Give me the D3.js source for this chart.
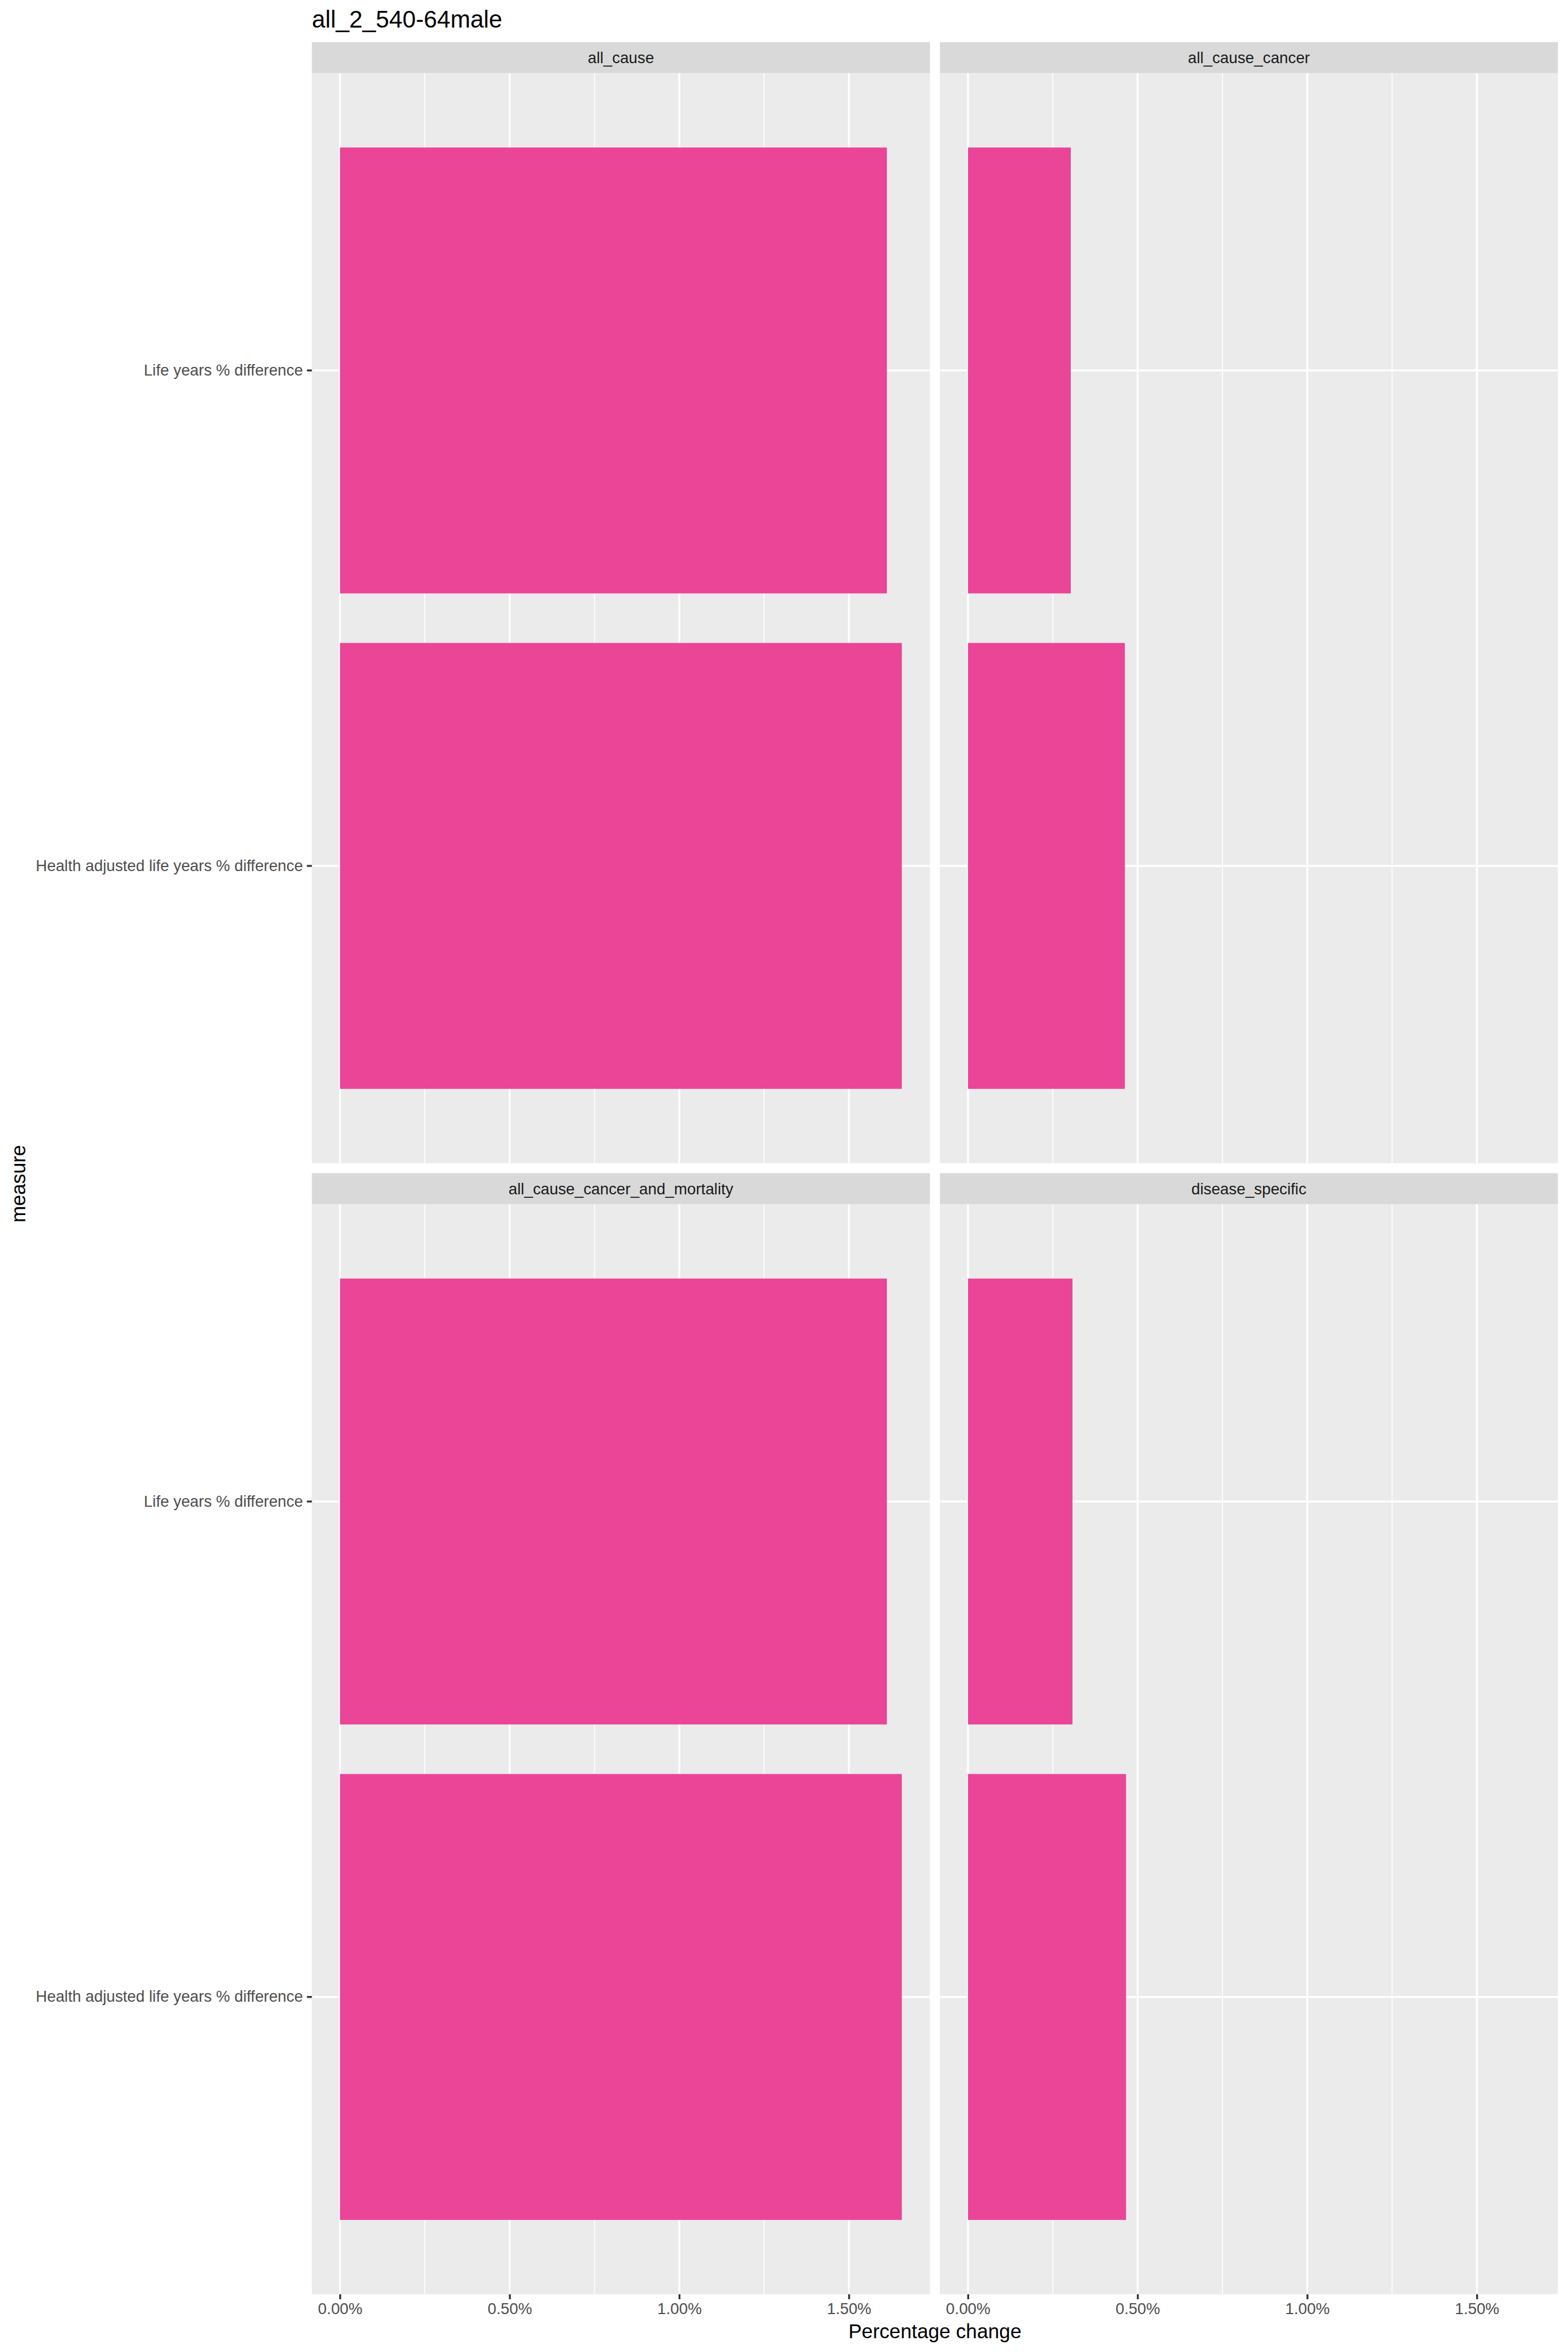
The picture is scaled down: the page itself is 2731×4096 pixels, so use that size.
<!DOCTYPE html>
<html>
<head>
<meta charset="utf-8">
<script src="https://cdn.jsdelivr.net/npm/d3@7"></script>
<style>
  html, body { margin: 0; padding: 0; background: #ffffff; }
  svg { display: block; }
</style>
</head>
<body>
<div id="chart"></div>
<script>
// ---------------- data ----------------
const chartTitle = "all_2_540-64male";
const facets = ["all_cause", "all_cause_cancer", "all_cause_cancer_and_mortality", "disease_specific"];
// measure categories, listed top to bottom as drawn
const measures = ["Life years % difference", "Health adjusted life years % difference"];
// values in percent, one per facet
const lifeYearsPct = [1.612, 0.303, 1.612, 0.308];
const healthAdjustedPct = [1.656, 0.4625, 1.656, 0.466];
const xTickValues = [0, 0.5, 1.0, 1.5];
const xTickLabels = ["0.00%", "0.50%", "1.00%", "1.50%"];
const xMinorValues = [0.25, 0.75, 1.25];
const xAxisTitle = "Percentage change";
const yAxisTitle = "measure";

// ---------------- layout (reference pixel units, 3600 x 5400) ----------------
const REF_W = 3600, REF_H = 5400;
const OUT_W = 2731, OUT_H = 4096;
const FONT = "'Liberation Sans', Arial, Helvetica, sans-serif";

const plotLeft = 716, plotRight = 3577;
const stripTop = 96.7, stripH = 71.3;
const panelBottomLast = 5267.4;
const gap = 22.9;
const ncol = 2, nrow = 2;
const panelW = (plotRight - plotLeft - gap * (ncol - 1)) / ncol;
const panelH = (panelBottomLast - stripTop - nrow * stripH - gap * (nrow - 1)) / nrow;

const bgPanel = "#EBEBEB", bgStrip = "#D9D9D9", barColor = "#EB4598";
const majorW = 4.4, minorW = 2.2, tickLen = 11.46, tickPad = 9.2;
const axisTextSize = 36.0, stripTextSize = 36.0, titleSize = 55, axisTitleSize = 45.8;

const svg = d3.select("#chart").append("svg")
  .attr("width", OUT_W).attr("height", OUT_H)
  .attr("viewBox", `0 0 ${REF_W} ${REF_H}`);

svg.append("rect").attr("width", REF_W).attr("height", REF_H).attr("fill", "#ffffff");

// shared x scale (ggplot-style 5% expansion)
const allVals = lifeYearsPct.concat(healthAdjustedPct);
const xMax = d3.max(allVals), xMin = Math.min(0, d3.min(allVals));
const xRange = xMax - xMin;
const xDomain = [xMin - 0.05 * xRange, xMax + 0.05 * xRange];

// title
svg.append("text")
  .attr("x", plotLeft).attr("y", 63)
  .attr("font-family", FONT).attr("font-size", titleSize).attr("fill", "#000000")
  .text(chartTitle);

facets.forEach((facet, i) => {
  const col = i % ncol, row = Math.floor(i / ncol);
  const px = plotLeft + col * (panelW + gap);
  const sTop = stripTop + row * (stripH + panelH + gap);
  const py = sTop + stripH;

  const x = d3.scaleLinear().domain(xDomain).range([px, px + panelW]);
  const y = d3.scaleBand().domain(measures).range([py, py + panelH])
    .paddingInner(0.1).paddingOuter(0.15);

  const g = svg.append("g");

  // strip
  g.append("rect").attr("x", px).attr("y", sTop).attr("width", panelW).attr("height", stripH)
    .attr("fill", bgStrip);
  g.append("text")
    .attr("x", px + panelW / 2).attr("y", sTop + stripH / 2 + 0.36 * stripTextSize)
    .attr("text-anchor", "middle")
    .attr("font-family", FONT).attr("font-size", stripTextSize).attr("fill", "#1A1A1A")
    .text(facet);

  // panel background
  g.append("rect").attr("x", px).attr("y", py).attr("width", panelW).attr("height", panelH)
    .attr("fill", bgPanel);

  // minor gridlines
  g.selectAll(".minor").data(xMinorValues).enter().append("line")
    .attr("x1", d => x(d)).attr("x2", d => x(d))
    .attr("y1", py).attr("y2", py + panelH)
    .attr("stroke", "#ffffff").attr("stroke-width", minorW);
  // major gridlines vertical
  g.selectAll(".majorx").data(xTickValues).enter().append("line")
    .attr("x1", d => x(d)).attr("x2", d => x(d))
    .attr("y1", py).attr("y2", py + panelH)
    .attr("stroke", "#ffffff").attr("stroke-width", majorW);
  // major gridlines horizontal
  g.selectAll(".majory").data(measures).enter().append("line")
    .attr("x1", px).attr("x2", px + panelW)
    .attr("y1", d => y(d) + y.bandwidth() / 2).attr("y2", d => y(d) + y.bandwidth() / 2)
    .attr("stroke", "#ffffff").attr("stroke-width", majorW);

  // bars
  const rows = [
    { m: measures[0], v: lifeYearsPct[i] },
    { m: measures[1], v: healthAdjustedPct[i] }
  ];
  g.selectAll(".bar").data(rows).enter().append("rect")
    .attr("x", d => x(Math.min(0, d.v)))
    .attr("width", d => Math.abs(x(d.v) - x(0)))
    .attr("y", d => y(d.m))
    .attr("height", y.bandwidth())
    .attr("fill", barColor);

  // y axis on left column
  if (col === 0) {
    const ya = g.append("g").attr("transform", `translate(${px},0)`)
      .call(d3.axisLeft(y).tickSize(tickLen).tickPadding(tickPad));
    ya.select(".domain").remove();
    ya.selectAll(".tick line").attr("stroke", "#333333").attr("stroke-width", majorW);
    ya.selectAll(".tick text").attr("font-family", FONT).attr("font-size", axisTextSize)
      .attr("fill", "#4D4D4D");
  }
  // x axis on bottom row
  if (row === nrow - 1) {
    const xa = g.append("g").attr("transform", `translate(0,${py + panelH})`)
      .call(d3.axisBottom(x).tickValues(xTickValues)
        .tickFormat((d, k) => xTickLabels[k]).tickSize(tickLen).tickPadding(tickPad));
    xa.select(".domain").remove();
    xa.selectAll(".tick line").attr("stroke", "#333333").attr("stroke-width", majorW);
    xa.selectAll(".tick text").attr("font-family", FONT).attr("font-size", axisTextSize)
      .attr("fill", "#4D4D4D");
  }
});

// axis titles
const firstPanelTop = stripTop + stripH;
svg.append("text")
  .attr("x", (plotLeft + plotRight) / 2).attr("y", 5369)
  .attr("text-anchor", "middle")
  .attr("font-family", FONT).attr("font-size", axisTitleSize).attr("fill", "#000000")
  .text(xAxisTitle);
svg.append("text")
  .attr("transform", `translate(58,${(firstPanelTop + panelBottomLast) / 2}) rotate(-90)`)
  .attr("text-anchor", "middle")
  .attr("font-family", FONT).attr("font-size", axisTitleSize).attr("fill", "#000000")
  .text(yAxisTitle);
</script>
</body>
</html>
